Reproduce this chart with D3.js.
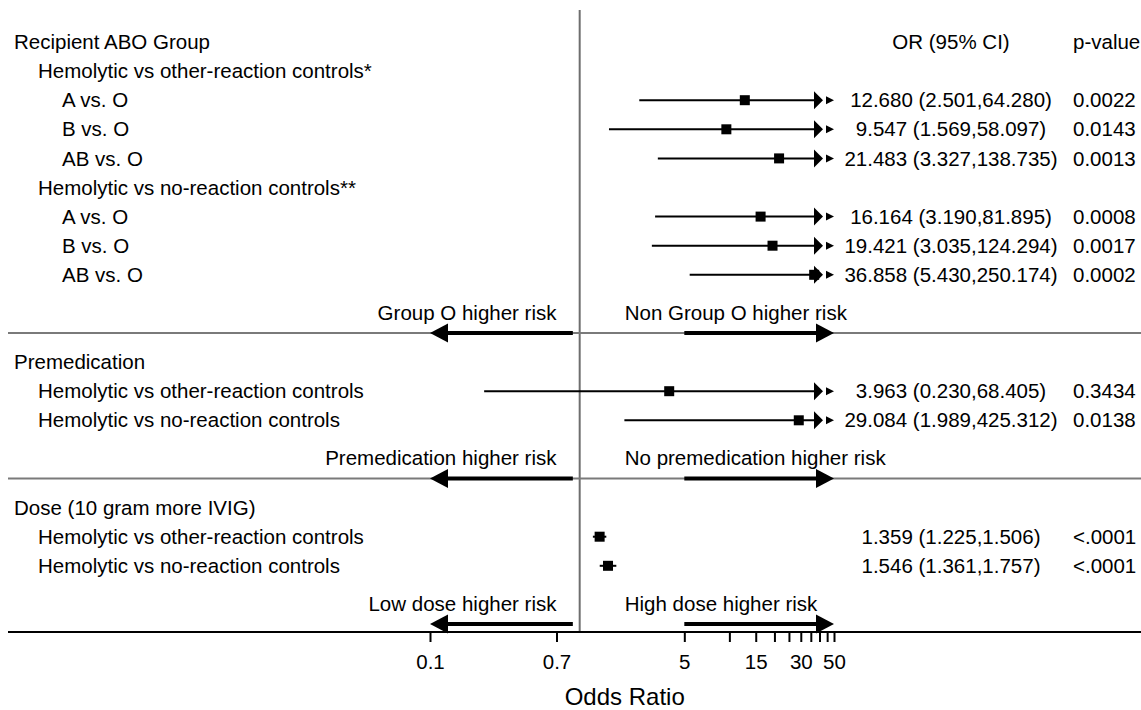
<!DOCTYPE html>
<html>
<head>
<meta charset="utf-8">
<script src="https://cdn.jsdelivr.net/npm/d3@7"></script>
<style>
  html, body { margin: 0; padding: 0; background: #fff; }
  svg { display: block; font-family: "Liberation Sans", Arial, sans-serif; }
</style>
</head>
<body>
<svg id="chart" width="1141" height="710"></svg>
<script>
// Row labels (top to bottom), their indent level and vertical slot
const rowLabels = [
  "Recipient ABO Group",
  "Hemolytic vs other-reaction controls*",
  "A vs. O", "B vs. O", "AB vs. O",
  "Hemolytic vs no-reaction controls**",
  "A vs. O", "B vs. O", "AB vs. O",
  "Premedication",
  "Hemolytic vs other-reaction controls",
  "Hemolytic vs no-reaction controls",
  "Dose (10 gram more IVIG)",
  "Hemolytic vs other-reaction controls",
  "Hemolytic vs no-reaction controls"
];
const rowIndent = [0, 1, 2, 2, 2, 1, 2, 2, 2, 0, 1, 1, 0, 1, 1];
const rowSlot   = [0, 1, 2, 3, 4, 5, 6, 7, 8, 11, 12, 13, 16, 17, 18];

// Odds ratios with 95% confidence limits and p-values (null = heading row)
const oddsRatio = [null, null, 12.680, 9.547, 21.483, null, 16.164, 19.421, 36.858, null, 3.963, 29.084, null, 1.359, 1.546];
const ciLower   = [null, null, 2.501, 1.569, 3.327, null, 3.190, 3.035, 5.430, null, 0.230, 1.989, null, 1.225, 1.361];
const ciUpper   = [null, null, 64.280, 58.097, 138.735, null, 81.895, 124.294, 250.174, null, 68.405, 425.312, null, 1.506, 1.757];
const pValues   = [null, null, "0.0022", "0.0143", "0.0013", null, "0.0008", "0.0017", "0.0002", null, "0.3434", "0.0138", null, "<.0001", "<.0001"];

// Direction annotations below each block
const leftNotes  = ["Group O higher risk", "Premedication higher risk", "Low dose higher risk"];
const rightNotes = ["Non Group O higher risk", "No premedication higher risk", "High dose higher risk"];
const noteSlot   = [10, 15, 20];

// Axis ticks
const tickValues = [0.1, 0.7, 5, 10, 15, 20, 25, 30, 35, 40, 45, 50];
const tickLabels = [0.1, 0.7, 5, 15, 30, 50];

const W = 1141, H = 710;
const FS = 20.5;
const svg = d3.select("#chart");

const x = d3.scaleLog().domain([0.1, 50]).range([430, 834]);
const y = d3.scaleLinear().domain([0, 1]).range([42, 71.1]);
const axisY = 632;
const indentX = d3.scaleLinear().domain([0, 1]).range([14, 38]);
const orColX = 951, pColX = 1073;

const fmt = v => v.toFixed(3);

// reference line at OR = 1
svg.append("line")
  .attr("x1", x(1)).attr("x2", x(1))
  .attr("y1", 10).attr("y2", axisY)
  .attr("stroke", "#6e6e6e").attr("stroke-width", 2);

// block separators
noteSlot.slice(0, 2).forEach(s => {
  svg.append("line")
    .attr("x1", 8).attr("x2", W)
    .attr("y1", y(s)).attr("y2", y(s))
    .attr("stroke", "#7a7a7a").attr("stroke-width", 2);
});

// headers of the right-hand columns
svg.append("text").attr("x", orColX).attr("y", y(0)).attr("dy", "0.35em")
  .attr("text-anchor", "middle").attr("font-size", FS).text("OR (95% CI)");
svg.append("text").attr("x", pColX).attr("y", y(0)).attr("dy", "0.35em")
  .attr("font-size", FS).text("p-value");

// row labels
rowLabels.forEach((lab, i) => {
  svg.append("text")
    .attr("x", indentX(rowIndent[i]))
    .attr("y", y(rowSlot[i])).attr("dy", "0.35em")
    .attr("font-size", FS).text(lab);
});

const xMax = x(50);
rowLabels.forEach((lab, i) => {
  if (oddsRatio[i] == null) return;
  const yy = y(rowSlot[i]);
  const clipped = ciUpper[i] > 50;
  const xLo = x(Math.max(ciLower[i], 0.1));
  const xHi = clipped ? xMax - 20 : x(ciUpper[i]);
  // CI line
  svg.append("line")
    .attr("x1", xLo).attr("x2", xHi).attr("y1", yy).attr("y2", yy)
    .attr("stroke", "#000").attr("stroke-width", 2);
  if (clipped) {
    // upper limit beyond the axis: truncation markers
    svg.append("path")
      .attr("d", `M${xMax - 20},${yy - 9}L${xMax - 11},${yy}L${xMax - 20},${yy + 9}Z`)
      .attr("fill", "#000");
    svg.append("path")
      .attr("d", `M${xMax - 8},${yy - 4}L${xMax},${yy}L${xMax - 8},${yy + 4}Z`)
      .attr("fill", "#000");
  }
  // point estimate
  svg.append("rect")
    .attr("x", x(oddsRatio[i]) - 5).attr("y", yy - 5)
    .attr("width", 10).attr("height", 10).attr("fill", "#000");
  // OR (95% CI) text
  svg.append("text")
    .attr("x", orColX).attr("y", yy).attr("dy", "0.35em")
    .attr("text-anchor", "middle").attr("font-size", FS)
    .text(`${fmt(oddsRatio[i])} (${fmt(ciLower[i])},${fmt(ciUpper[i])})`);
  svg.append("text")
    .attr("x", pColX).attr("y", yy).attr("dy", "0.35em")
    .attr("font-size", FS).text(pValues[i]);
});

// direction arrows with captions
noteSlot.forEach((s, k) => {
  const ay = y(s);
  svg.append("text").attr("x", x(0.7)).attr("y", ay - 20.5).attr("dy", "0.35em")
    .attr("text-anchor", "end").attr("font-size", FS).text(leftNotes[k]);
  svg.append("text").attr("x", x(2)).attr("y", ay - 20.5).attr("dy", "0.35em")
    .attr("font-size", FS).text(rightNotes[k]);
  // left arrow (0.9 -> 0.1)
  svg.append("line").attr("x1", x(0.9)).attr("x2", x(0.1) + 14)
    .attr("y1", ay).attr("y2", ay).attr("stroke", "#000").attr("stroke-width", 4);
  svg.append("path")
    .attr("d", `M${x(0.1)},${ay}L${x(0.1) + 18},${ay - 9.5}L${x(0.1) + 18},${ay + 9.5}Z`)
    .attr("fill", "#000");
  // right arrow (5 -> 50)
  svg.append("line").attr("x1", x(5)).attr("x2", x(50) - 14)
    .attr("y1", ay).attr("y2", ay).attr("stroke", "#000").attr("stroke-width", 4);
  svg.append("path")
    .attr("d", `M${x(50)},${ay}L${x(50) - 18},${ay - 9.5}L${x(50) - 18},${ay + 9.5}Z`)
    .attr("fill", "#000");
});

// x axis
const axis = d3.axisBottom(x)
  .tickValues(tickValues)
  .tickFormat(d => tickLabels.includes(d) ? String(d) : "")
  .tickSize(10).tickPadding(12).tickSizeOuter(0);
const gAxis = svg.append("g").attr("transform", `translate(0,${axisY})`).call(axis);
gAxis.select(".domain").remove();
gAxis.selectAll(".tick line").attr("stroke", "#000").attr("stroke-width", 2);
gAxis.selectAll(".tick text").attr("font-size", FS).attr("fill", "#000")
  .attr("font-family", "Liberation Sans, Arial, sans-serif");
svg.append("line").attr("x1", 8).attr("x2", W)
  .attr("y1", axisY).attr("y2", axisY)
  .attr("stroke", "#000").attr("stroke-width", 2);

svg.append("text").attr("x", x(2)).attr("y", 697).attr("dy", "0.35em")
  .attr("text-anchor", "middle").attr("font-size", 24).text("Odds Ratio");
</script>
</body>
</html>
